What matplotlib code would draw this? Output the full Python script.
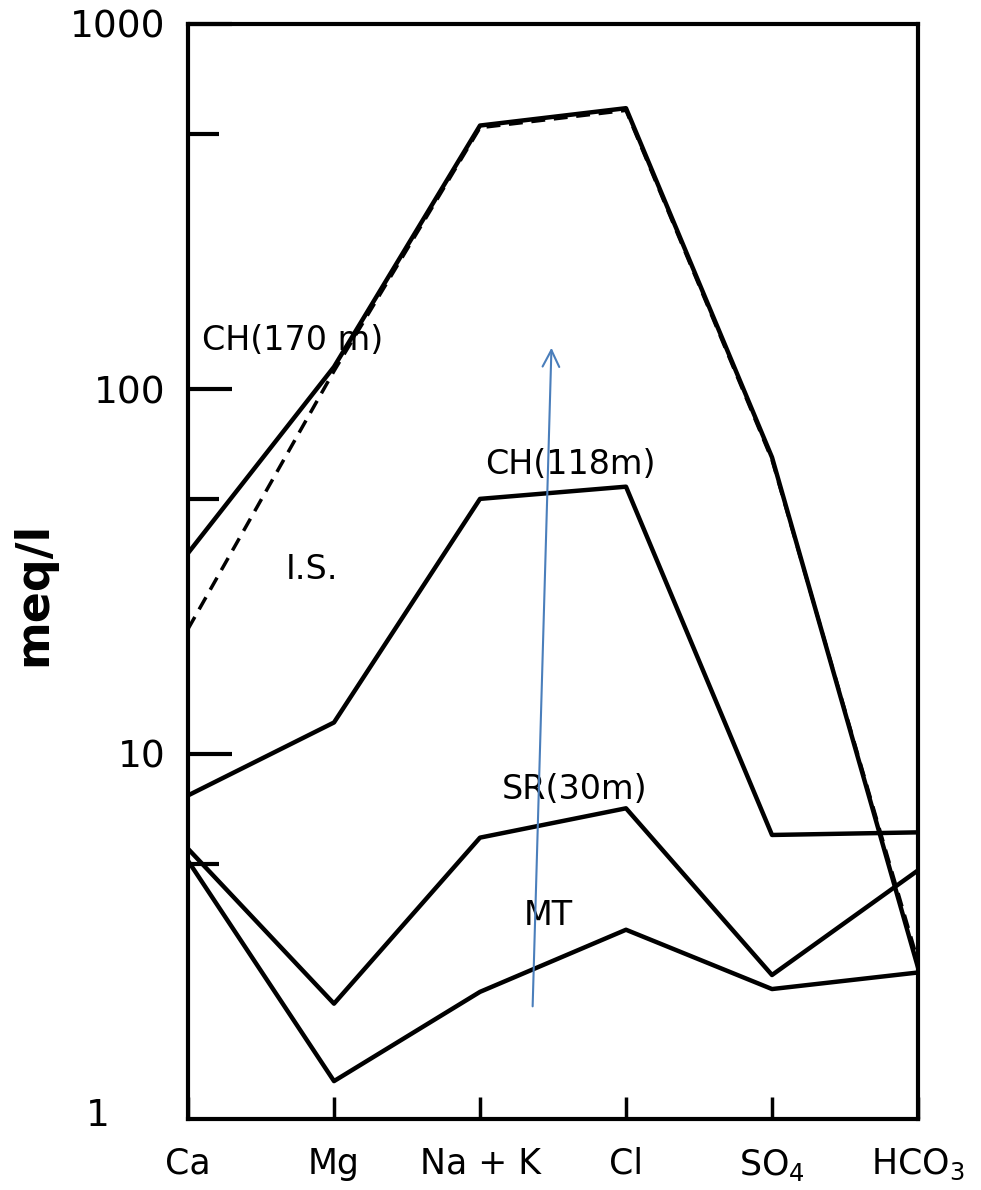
import matplotlib
matplotlib.use("Agg")
import matplotlib.pyplot as plt
from matplotlib.ticker import FixedLocator, NullFormatter

ions = ["Ca", "Mg", "Na + K", "Cl", "SO$_4$", "HCO$_3$"]
ch170 = [35.5, 115, 527, 588, 65, 2.6]
is_vals = [22, 112, 520, 580, 64, 2.7]
ch118 = [7.7, 12.2, 50, 54, 6.0, 6.1]
sr30 = [5.5, 2.07, 5.9, 7.1, 2.48, 4.8]
mt = [5.1, 1.27, 2.23, 3.3, 2.27, 2.52]

labels = ["CH(170 m)", "I.S.", "CH(118m)", "SR(30m)", "MT"]
label_pos = [(0.72, 136), (0.85, 32), (2.62, 62), (2.65, 8.0), (2.47, 3.6)]

arrow_start = (2.36, 2.0)
arrow_end = (2.49, 132)

fig = plt.figure(figsize=(9.81, 11.90), dpi=100)
ax = fig.add_axes([188/981, 1 - 1119/1190, (918-188)/981, (1119-24)/1190])

x = list(range(len(ions)))
lw = 3.2
ax.plot(x, ch170, color="black", lw=lw)
ax.plot(x, is_vals, color="black", lw=2.5, ls=(0, (4, 2.5)))
ax.plot(x, ch118, color="black", lw=lw)
ax.plot(x, sr30, color="black", lw=lw)
ax.plot(x, mt, color="black", lw=lw)

ax.set_yscale("log")
ax.set_ylim(1, 1000)
ax.set_xlim(0, len(ions) - 1)

fs_lab = 24
for t, (px, py) in zip(labels, label_pos):
    ax.text(px, py, t, fontsize=fs_lab, ha="center", va="center",
            family="DejaVu Sans")

ax.annotate("", xy=arrow_end, xytext=arrow_start,
            arrowprops=dict(arrowstyle="->", color="#4a7ebb", lw=1.5,
                            mutation_scale=30))

for s in ax.spines.values():
    s.set_linewidth(3)

ax.yaxis.set_major_locator(FixedLocator([10, 100, 1000]))
ax.yaxis.set_minor_locator(FixedLocator([5, 50, 500]))
ax.yaxis.set_minor_formatter(NullFormatter())
ax.set_yticklabels(["10", "100", "1000"])
ax.tick_params(axis="y", which="major", direction="in", length=32, width=3,
               labelsize=27, pad=16)
ax.tick_params(axis="y", which="minor", direction="in", length=22, width=3)
ax.text(-0.62, 1.02, "1", fontsize=27, ha="center", va="center")

ax.set_xticks(x)
ax.set_xticklabels(ions)
ax.tick_params(axis="x", direction="in", length=16, width=2.5,
               labelsize=25, pad=20)

ax.set_ylabel("meq/l", fontsize=33, fontweight="bold")
ax.yaxis.set_label_coords(-0.18, 0.48)

fig.savefig("out.png", dpi=100)
